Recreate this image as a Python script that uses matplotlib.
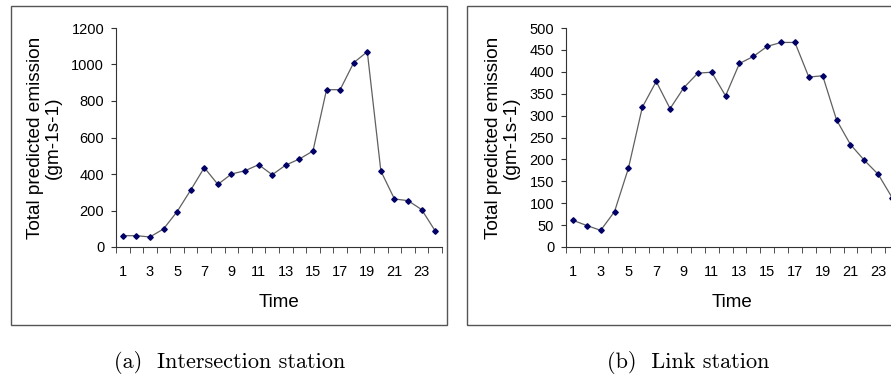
import matplotlib.pyplot as plt
import numpy as np
from matplotlib.patches import Rectangle

plt.rcParams['font.family'] = ['Liberation Sans', 'DejaVu Sans']

hours = np.arange(1, 25)
intersection = [62, 62, 55, 99, 194, 312, 435, 343, 400, 418, 451, 396,
                449, 482, 526, 862, 862, 1010, 1070, 416, 263, 254, 205, 88]
link = [61, 49, 38, 81, 180, 319, 378, 316, 364, 397, 399, 345,
        419, 435, 458, 467, 467, 388, 391, 290, 234, 198, 166, 113]

W, H = 891, 377
fig = plt.figure(figsize=(W / 100, H / 100), dpi=100)


def px_axes(x0, y0, x1, y1):
    # pixel box (top-left origin) -> figure fraction
    return fig.add_axes([x0 / W, 1 - y1 / H, (x1 - x0) / W, (y1 - y0) / H])


def frame(x0, y0, x1, y1):
    fig.patches.append(Rectangle((x0 / W, 1 - y1 / H), (x1 - x0) / W, (y1 - y0) / H,
                                 transform=fig.transFigure, fill=False,
                                 edgecolor='#555555', linewidth=1.0))


def panel(ax, values, ymax, ystep, caption, cx):
    ax.plot(hours, values, color='#606060', linewidth=0.9,
            marker='D', markersize=2.8, markerfacecolor='#000066',
            markeredgecolor='#000066', clip_on=False)
    ax.set_xlim(0.5, 24.5)
    ax.set_ylim(0, ymax)
    ax.set_yticks(np.arange(0, ymax + 1, ystep))
    ax.set_xticks(hours[::2])
    ax.set_xticks(np.arange(0.5, 25, 1), minor=True)
    ax.tick_params(axis='x', which='major', length=0, pad=13, labelsize=10.5)
    ax.tick_params(axis='x', which='minor', length=4, direction='out', color='#333333')
    ax.tick_params(axis='y', length=3.5, pad=5, labelsize=10.5, color='#333333')
    for s in ('top', 'right'):
        ax.spines[s].set_visible(False)
    for s in ('left', 'bottom'):
        ax.spines[s].set_color('#333333')
        ax.spines[s].set_linewidth(0.8)
    ax.set_facecolor('none')
    ax.set_xlabel('Time', fontsize=13.5, labelpad=11)
    ax.set_ylabel('Total predicted emission\n(gm-1s-1)', fontsize=13.7,
                  linespacing=1.05, labelpad=7)
    fig.text(cx / W, 1 - 362 / H, caption, family='cmr10', fontsize=16,
             ha='center', va='center')


frame(10.5, 6, 447, 324.5)
frame(467, 6, 905, 324.5)

ax1 = px_axes(116, 28, 442, 247)
panel(ax1, intersection, 1200, 200, '(a)  Intersection station', 230)

ax2 = px_axes(566, 28, 899, 247)
panel(ax2, link, 500, 50, '(b)  Link station', 688)

fig.savefig('out.png', dpi=100)
